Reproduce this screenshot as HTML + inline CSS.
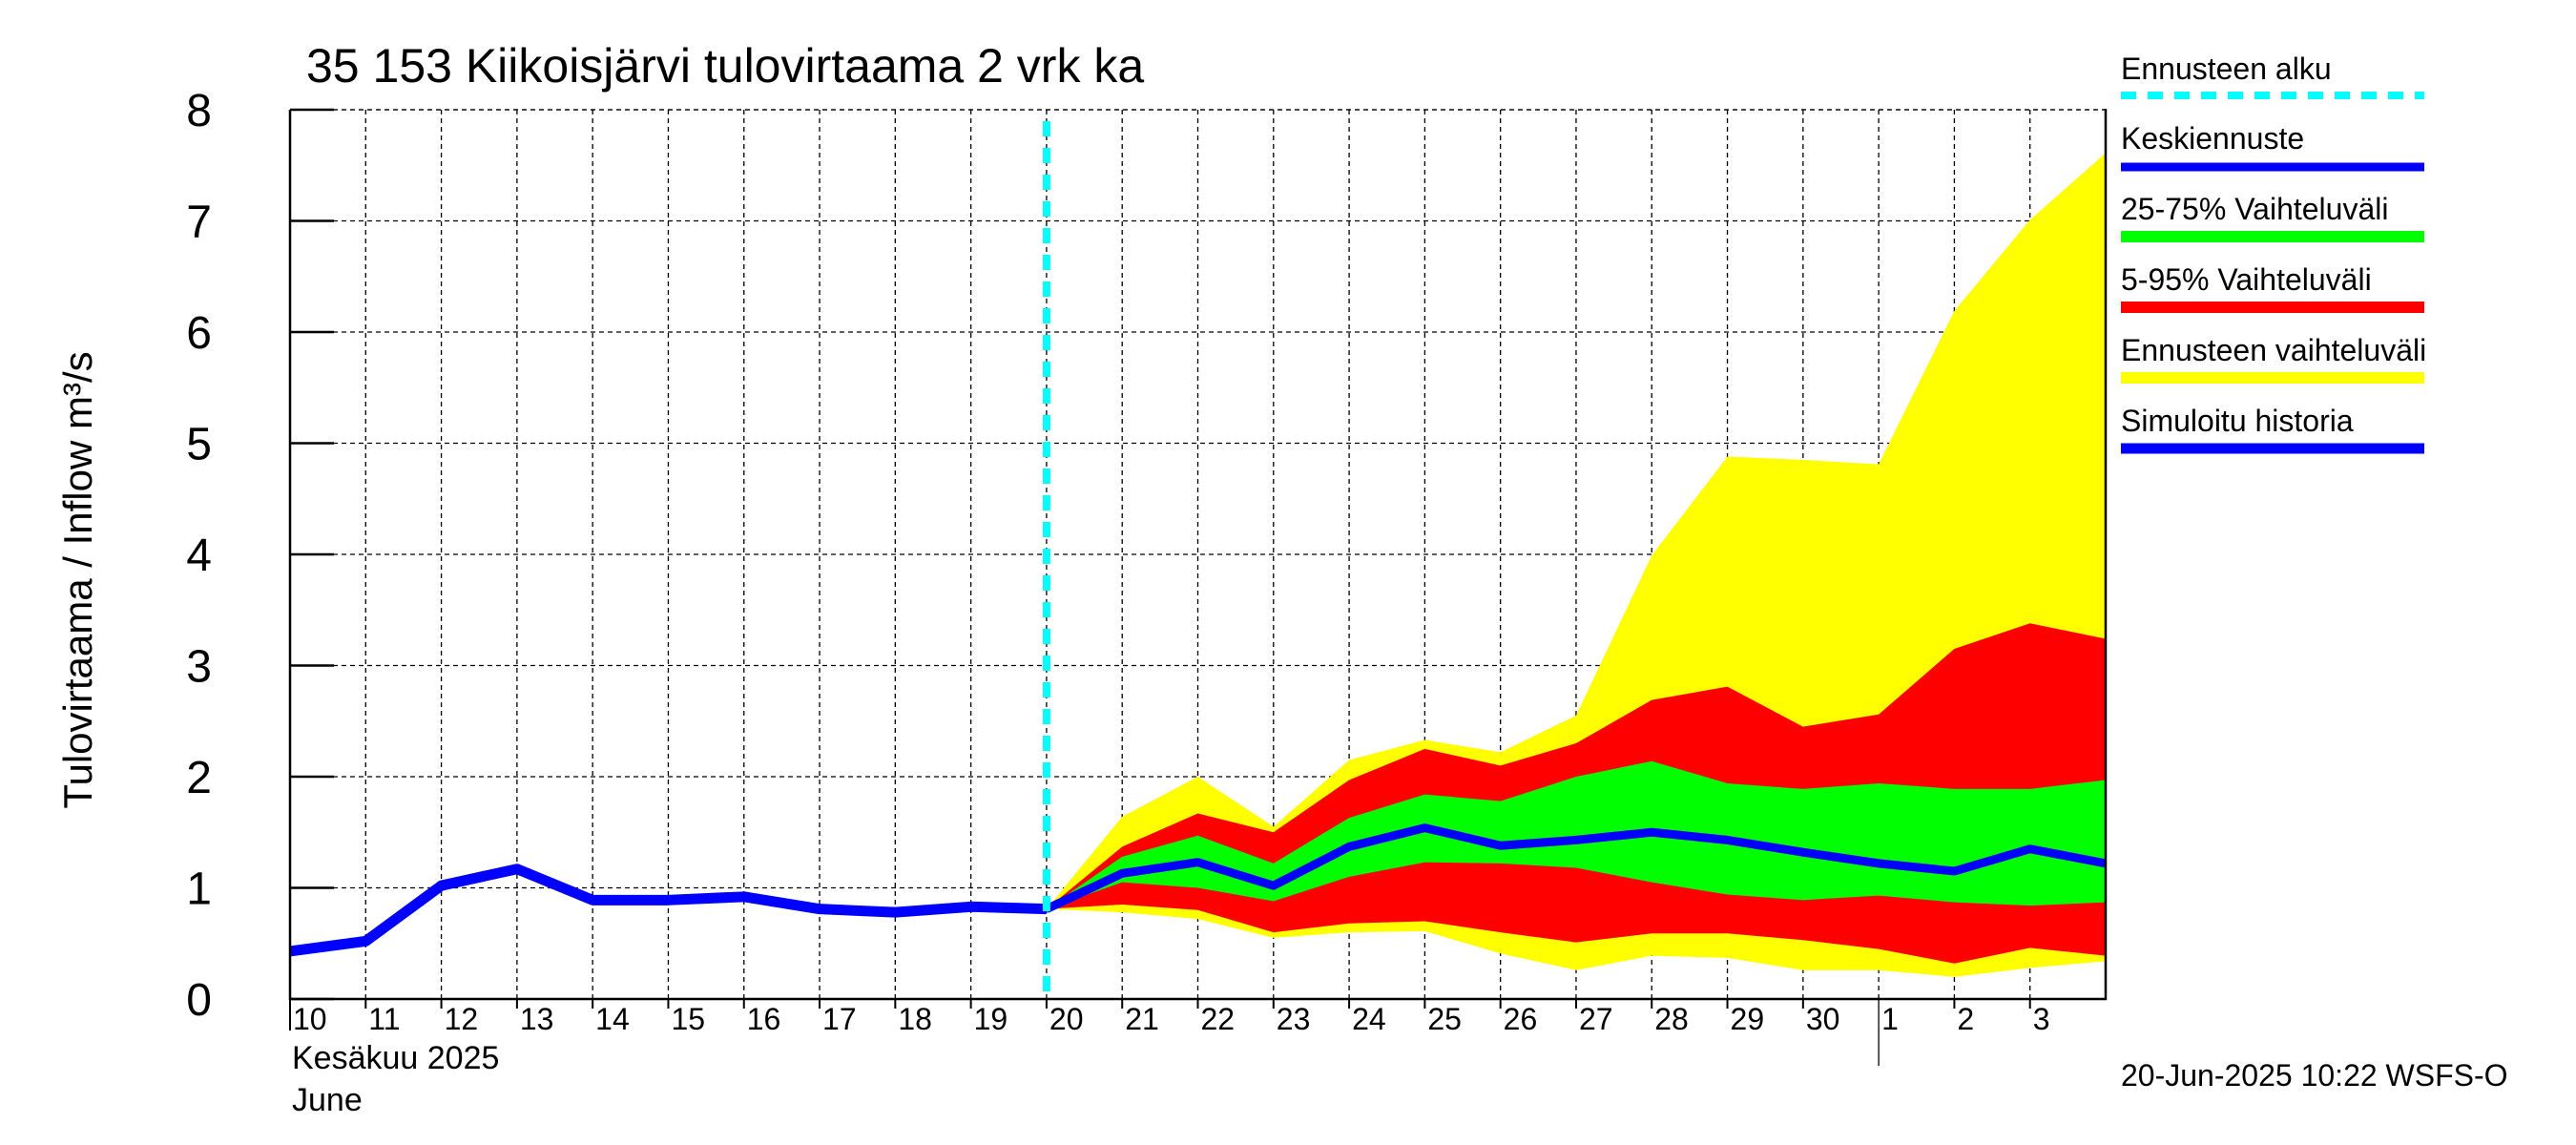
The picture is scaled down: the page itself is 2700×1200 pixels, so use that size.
<!DOCTYPE html>
<html><head><meta charset="utf-8"><style>
html,body{margin:0;padding:0;background:#fff;}
svg{display:block;font-family:"Liberation Sans",sans-serif;}
</style></head><body>
<svg id="chart" width="2700" height="1200" viewBox="0 0 2700 1200" xmlns="http://www.w3.org/2000/svg">
<rect width="2700" height="1200" fill="#fff"/>
<text x="321" y="86" font-size="50">35 153 Kiikoisjärvi tulovirtaama 2 vrk ka</text>
<text transform="translate(96,608) rotate(-90)" text-anchor="middle" font-size="42">Tulovirtaama / Inflow    m³/s</text>
<g id="grid"></g>
<g id="bands"></g>
<g id="lines"></g>
<g id="axes"></g>
<text x="306" y="1120" font-size="34">Kesäkuu   2025</text>
<text x="306" y="1164" font-size="34">June</text>
<text x="2223" y="1138" font-size="32">20-Jun-2025 10:22 WSFS-O</text>
<g>
<text x="2223" y="83" font-size="32">Ennusteen alku</text>
<line x1="2223" y1="100" x2="2541" y2="100" stroke="#00ffff" stroke-width="8" stroke-dasharray="16,12"/>
<text x="2223" y="156" font-size="32">Keskiennuste</text>
<line x1="2223" y1="175" x2="2541" y2="175" stroke="#0000ff" stroke-width="9"/>
<text x="2223" y="230" font-size="32">25-75% Vaihteluväli</text>
<line x1="2223" y1="248" x2="2541" y2="248" stroke="#00ff00" stroke-width="12"/>
<text x="2223" y="304" font-size="32">5-95% Vaihteluväli</text>
<line x1="2223" y1="322" x2="2541" y2="322" stroke="#ff0000" stroke-width="12"/>
<text x="2223" y="378" font-size="32">Ennusteen vaihteluväli</text>
<line x1="2223" y1="396" x2="2541" y2="396" stroke="#ffff00" stroke-width="12"/>
<text x="2223" y="452" font-size="32">Simuloitu historia</text>
<line x1="2223" y1="470" x2="2541" y2="470" stroke="#0000ff" stroke-width="11"/>
</g>
</svg>
<script>
const histDays = [10,11,12,13,14,15,16,17,18,19,20];
const histVals = [0.43,0.52,1.02,1.17,0.89,0.89,0.92,0.81,0.78,0.83,0.81];
const fcDays = [20,21,22,23,24,25,26,27,28,29,30,31,32,33,34];
const yellowHi = [0.81,1.64,2.0,1.55,2.15,2.33,2.22,2.55,3.99,4.88,4.85,4.81,6.19,7.01,7.61];
const redHi    = [0.81,1.37,1.67,1.5,1.97,2.25,2.10,2.30,2.69,2.81,2.45,2.56,3.15,3.38,3.24];
const greenHi  = [0.81,1.28,1.47,1.22,1.63,1.84,1.78,2.0,2.14,1.94,1.89,1.94,1.89,1.89,1.97];
const median   = [0.81,1.13,1.23,1.02,1.37,1.54,1.38,1.43,1.50,1.43,1.32,1.22,1.15,1.35,1.22];
const greenLo  = [0.81,1.05,1.0,0.88,1.1,1.23,1.22,1.18,1.05,0.94,0.89,0.93,0.87,0.84,0.87];
const redLo    = [0.81,0.85,0.8,0.6,0.68,0.70,0.60,0.51,0.59,0.59,0.53,0.45,0.32,0.46,0.39];
const yellowLo = [0.81,0.78,0.72,0.55,0.6,0.61,0.41,0.26,0.39,0.37,0.26,0.26,0.2,0.28,0.34];
const xLabels = ["10","11","12","13","14","15","16","17","18","19","20","21","22","23","24","25","26","27","28","29","30","1","2","3"];
const yTicks = [0,1,2,3,4,5,6,7,8];
const forecastStart = 20;

const X0=304, X1=2207, Y0=1047, Y1=115, D0=10, D1=34, V1=8;
const x = d => X0 + (d-D0)*(X1-X0)/(D1-D0);
const y = v => Y0 - v*(Y0-Y1)/V1;
const NS="http://www.w3.org/2000/svg";
function mk(tag, parent, attrs){const e=document.createElementNS(NS,tag);for(const k in attrs)e.setAttribute(k,attrs[k]);document.getElementById(parent).appendChild(e);return e;}

// grid
for(let i=1;i<xLabels.length;i++){
  const g=mk('line','grid',{x1:x(D0+i),x2:x(D0+i),y1:Y1,y2:Y0,stroke:'#000','stroke-width':1.3,'stroke-dasharray':'5,4'});
  
  
}
yTicks.forEach(v=>{ if(v===0) return;
  const g=mk('line','grid',{x1:X0,x2:X1,y1:y(v),y2:y(v),stroke:'#000','stroke-width':1.3,'stroke-dasharray':'5,4'});
  
  
});

function band(hi, lo, color, name){
  let pts=fcDays.map((d,i)=>x(d)+','+y(hi[i]));
  for(let i=fcDays.length-1;i>=0;i--) pts.push(x(fcDays[i])+','+y(lo[i]));
  const p=mk('polygon','bands',{points:pts.join(' '),fill:color});
  
  
}
band(yellowHi,yellowLo,'#ffff00','forecast-range-band');
band(redHi,redLo,'#ff0000','band-5-95');
band(greenHi,greenLo,'#00ff00','band-25-75');

const h=mk('polyline','lines',{points:histDays.map((d,i)=>x(d)+','+y(histVals[i])).join(' '),fill:'none',stroke:'#0000ff','stroke-width':11,'stroke-linejoin':'round'});


const m=mk('polyline','lines',{points:fcDays.map((d,i)=>x(d)+','+y(median[i])).join(' '),fill:'none',stroke:'#0000ff','stroke-width':9,'stroke-linejoin':'round'});


const fs=mk('line','lines',{x1:x(forecastStart),x2:x(forecastStart),y1:Y1+12,y2:Y0,stroke:'#00ffff','stroke-width':8,'stroke-dasharray':'16,12'});



// axes
const ax=mk('path','axes',{d:`M${X0},${Y1} V${Y0} H${X1} V${Y1-1}`,fill:'none',stroke:'#000','stroke-width':2.5});


mk('line','axes',{x1:X0,x2:X1,y1:Y1,y2:Y1,stroke:'#000','stroke-width':1.3,'stroke-dasharray':'5,4'});
yTicks.forEach(v=>{
  const t=mk('line','axes',{x1:X0,x2:X0+46,y1:y(v),y2:y(v),stroke:'#000','stroke-width':2.5});
  
  
  const l=mk('text','axes',{x:222,y:y(v)+17,'text-anchor':'end','font-size':48});
  l.textContent=v;
  
  
});
xLabels.forEach((s,i)=>{
  const d=D0+i;
  const t=mk('line','axes',{x1:x(d),x2:x(d),y1:Y0,y2:Y0+(i===0?33:(s==='1'?70:10)),stroke:'#000','stroke-width':(s==='1'?1.3:2)});
  
  
  const l=mk('text','axes',{x:x(d)+3,y:1079,'font-size':32});
  l.textContent=s;
  
  
});
</script>
</body></html>
